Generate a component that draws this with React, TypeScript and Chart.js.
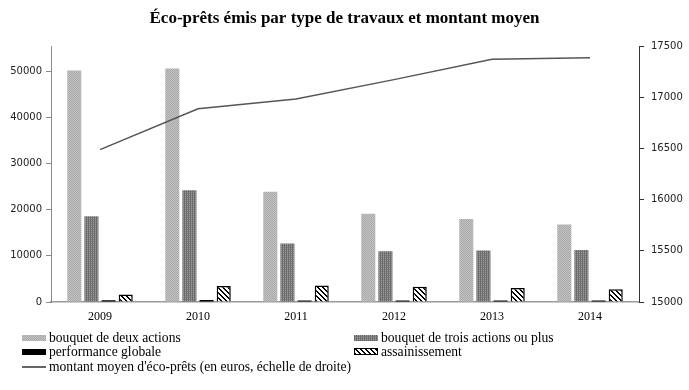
import React, { useEffect, useRef, useMemo } from "react";
import { Chart, registerables } from "chart.js";

Chart.register(...registerables);

const years = ["2009", "2010", "2011", "2012", "2013", "2014"];
const deuxActions = [50200, 50600, 23900, 19150, 18000, 16800];
const troisActions = [18600, 24200, 12700, 11000, 11150, 11250];
const performanceGlobale = [380, 420, 300, 300, 300, 300];
const assainissement = [1650, 3450, 3550, 3300, 3050, 2750];
const montantMoyen = [16490, 16890, 16985, 17175, 17375, 17390];
const leftTicks = [0, 10000, 20000, 30000, 40000, 50000];

const labelDeux = "bouquet de deux actions";
const labelTrois = "bouquet de trois actions ou plus";
const labelPerf = "performance globale";
const labelAssain = "assainissement";
const labelMontant = "montant moyen d'éco-prêts (en euros, échelle de droite)";
const titleText = "Éco-prêts émis par type de travaux et montant moyen";

function makeCanvas(size: number, draw: (ctx: CanvasRenderingContext2D) => void) {
  const c = document.createElement("canvas");
  c.width = size;
  c.height = size;
  const ctx = c.getContext("2d")!;
  draw(ctx);
  return c;
}

function patternCanvases() {
  const deux = makeCanvas(2, (ctx) => {
    ctx.fillStyle = "#c4c4c4";
    ctx.fillRect(0, 0, 2, 2);
    ctx.fillStyle = "#a8a8a8";
    ctx.fillRect(0, 0, 1, 1);
    ctx.fillRect(1, 1, 1, 1);
  });
  const trois = makeCanvas(2, (ctx) => {
    ctx.fillStyle = "#9c9c9c";
    ctx.fillRect(0, 0, 2, 2);
    ctx.fillStyle = "#6a6a6a";
    ctx.fillRect(0, 0, 1, 2);
    ctx.fillStyle = "#808080";
    ctx.fillRect(1, 1, 1, 1);
  });
  const assain = makeCanvas(5, (ctx) => {
    ctx.fillStyle = "#ffffff";
    ctx.fillRect(0, 0, 5, 5);
    ctx.fillStyle = "#000000";
    for (let y = 0; y < 5; y++) {
      for (let x = 0; x < 5; x++) {
        const d = (((x - y) % 5) + 5) % 5;
        if (d === 0 || d === 1) ctx.fillRect(x, y, 1, 1);
      }
    }
  });
  return { deux, trois, assain };
}

export default function App() {
  const canvasRef = useRef<HTMLCanvasElement | null>(null);
  const pats = useMemo(() => patternCanvases(), []);

  useEffect(() => {
    const ctx = canvasRef.current!.getContext("2d")!;
    const pDeux = ctx.createPattern(pats.deux, "repeat")!;
    const pTrois = ctx.createPattern(pats.trois, "repeat")!;
    const pAssain = ctx.createPattern(pats.assain, "repeat")!;

    const chart = new Chart(ctx, {
      type: "bar",
      data: {
        labels: years,
        datasets: [
          {
            type: "line",
            label: labelMontant,
            data: montantMoyen,
            yAxisID: "y1",
            borderColor: "#555555",
            borderWidth: 1.5,
            pointRadius: 0,
            tension: 0,
            order: 0,
          } as any,
          {
            label: labelDeux,
            data: deuxActions,
            backgroundColor: pDeux,
            yAxisID: "y",
            order: 1,
          },
          {
            label: labelTrois,
            data: troisActions,
            backgroundColor: pTrois,
            yAxisID: "y",
            order: 1,
          },
          {
            label: labelPerf,
            data: performanceGlobale,
            backgroundColor: "#000000",
            yAxisID: "y",
            order: 1,
          },
          {
            label: labelAssain,
            data: assainissement,
            backgroundColor: pAssain,
            borderColor: "#000000",
            borderWidth: 1.5,
            yAxisID: "y",
            order: 1,
          },
        ],
      },
      options: {
        animation: false,
        responsive: false,
        maintainAspectRatio: false,
        layout: { padding: { left: 0, right: 0, top: 0, bottom: 0 } },
        datasets: {
          bar: { categoryPercentage: 0.7, barPercentage: 0.82 },
        },
        plugins: {
          legend: { display: false },
          tooltip: { enabled: false },
          title: {
            display: true,
            text: titleText,
            color: "#000000",
            font: { family: "'Liberation Serif', serif", size: 17, weight: "bold" },
            padding: { top: 8, bottom: 18 },
          },
        },
        scales: {
          x: {
            grid: { display: false, drawTicks: false },
            border: { display: true, color: "#9a9a9a", width: 1.5 },
            ticks: {
              color: "#000000",
              font: { family: "'Liberation Serif', serif", size: 12 },
              padding: 8,
              maxRotation: 0,
            },
            afterFit: (axis: any) => {
              axis.height = 28;
            },
          },
          y: {
            position: "left",
            min: 0,
            max: 55400,
            afterBuildTicks: (axis: any) => {
              axis.ticks = leftTicks.map((v) => ({ value: v }));
            },
            grid: {
              drawOnChartArea: false,
              drawTicks: true,
              tickLength: 5,
              color: "#8a8a8a",
            },
            border: { display: true, color: "#8a8a8a", width: 1 },
            ticks: {
              color: "#222222",
              font: { family: "'DejaVu Sans', sans-serif", size: 10 },
              padding: 4,
              callback: (v: any) => String(v),
            },
            afterFit: (axis: any) => {
              axis.width = 51;
            },
          },
          y1: {
            position: "right",
            min: 15000,
            max: 17500,
            ticks: {
              stepSize: 500,
              color: "#222222",
              font: { family: "'DejaVu Sans', sans-serif", size: 10 },
              padding: 7,
              callback: (v: any) => String(v),
            },
            grid: {
              drawOnChartArea: false,
              drawTicks: true,
              tickLength: 5,
              color: "#333333",
            },
            border: { display: true, color: "#333333", width: 1 },
            afterFit: (axis: any) => {
              axis.width = 50;
            },
          },
        },
      },
    });
    return () => chart.destroy();
  }, [pats]);

  const legendFont: React.CSSProperties = {
    fontFamily: "'Liberation Serif', serif",
    fontSize: 13.6,
    color: "#000",
    lineHeight: "15px",
    height: 15,
    whiteSpace: "nowrap",
  };
  const sw = (bg: string, extra: React.CSSProperties = {}): React.CSSProperties => ({
    display: "inline-block",
    width: 24,
    height: 6,
    marginRight: 3,
    verticalAlign: "middle",
    backgroundImage: bg,
    boxSizing: "border-box",
    ...extra,
  });
  const url = (c: HTMLCanvasElement) => `url(${c.toDataURL()})`;

  const items = [
    { x: 22, y: 329, label: labelDeux, style: sw(url(pats.deux)) },
    { x: 354, y: 329, label: labelTrois, style: sw(url(pats.trois)) },
    { x: 22, y: 343, label: labelPerf, style: sw("none", { background: "#000" }) },
    { x: 354, y: 343, label: labelAssain, style: sw(url(pats.assain), { border: "1px solid #000", height: 7 }) },
    { x: 22, y: 358, label: labelMontant, style: sw("none", { background: "#666", height: 2 }) },
  ];

  return (
    <div style={{ position: "fixed", left: 0, top: 0, width: 689, height: 390, background: "#fff" }}>
      <canvas ref={canvasRef} width={689} height={330} style={{ position: "absolute", left: 0, top: 0, width: 689, height: 330 }} />
      {items.map((it, i) => (
        <div key={i} style={{ position: "absolute", left: it.x, top: it.y, ...legendFont }}>
          <span style={it.style} />
          <span style={{ verticalAlign: "middle" }}>{it.label}</span>
        </div>
      ))}
    </div>
  );
}
